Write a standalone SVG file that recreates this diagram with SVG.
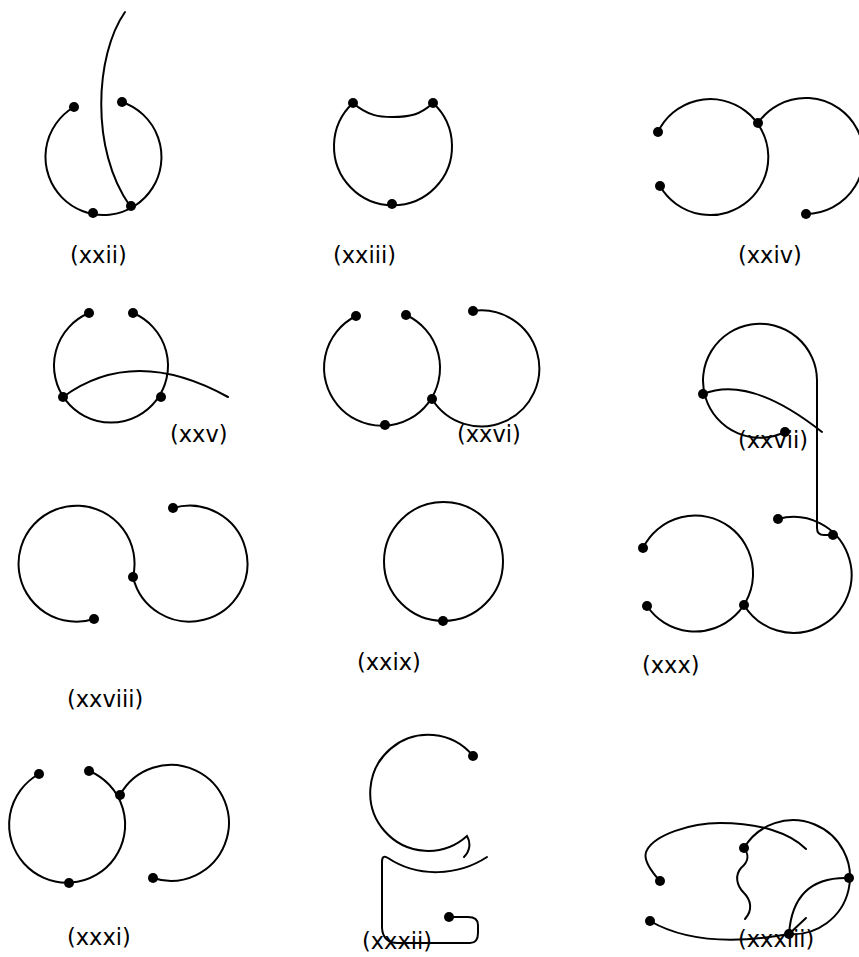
<svg xmlns="http://www.w3.org/2000/svg" width="859" height="957" viewBox="0 0 859 957">
<style>
.c{fill:none;stroke:#000;stroke-width:2;stroke-linecap:round}
.d{fill:#000}
.t{font-family:"DejaVu Sans",sans-serif;font-size:22.5px;fill:#000}
</style>
<rect width="859" height="957" fill="#fff"/>
<g id="connectors">
<!-- xxii -->
<path class="c" d="M122,102 A58,58 0 1 1 74,107"/>
<path class="c" d="M125,12 C95,55 90,150 130,206"/>
<!-- xxiii -->
<path class="c" d="M353,103 A59,59 0 1 0 433,103"/>
<path class="c" d="M353,103 C368,116 380,117 392,117 C410,117 420,115 433,103"/>
<!-- xxiv -->
<path class="c" d="M658,132 A58,58 0 1 1 660,186"/>
<path class="c" d="M758,123 A58,58 0 1 1 806,214"/>
<!-- xxv -->
<path class="c" d="M89,313 A57,57 0 1 0 133,313"/>
<path class="c" d="M63,397 Q134,345 228,397"/>
<!-- xxvi -->
<path class="c" d="M356,316 A58,58 0 1 0 406,315"/>
<path class="c" d="M473,311 A58,58 0 1 1 432,399"/>
<!-- xxvii -->
<path class="c" d="M785,432 A57,57 0 1 1 817,380 L817,528 Q817,535 824,535 L833,535"/>
<path class="c" d="M703,394 Q750,375 822,432"/>
<!-- xxviii -->
<path class="c" d="M94,619 A58,58 0 1 1 133,577"/>
<path class="c" d="M173,508 A58,58 0 1 1 133,577"/>
<!-- xxix -->
<circle class="c" cx="443.5" cy="561.5" r="59.5"/>
<!-- xxx -->
<path class="c" d="M643,548 A58,58 0 1 1 647,606"/>
<path class="c" d="M778,519 A58,58 0 1 1 744,605"/>
<!-- xxxi -->
<path class="c" d="M39,774 A58,58 0 1 0 89,771"/>
<path class="c" d="M120,795 A58,58 0 1 1 153,878"/>
<!-- xxxii -->
<path class="c" d="M473,756 A58,58 0 1 0 467,836 C471,843 470,851 464,857"/>
<path class="c" d="M487,857 C458,876 418,878 388,858 Q382,854 382,862 L382,928 Q383,943 398,943 L470,943 Q478,943 478,933 L478,925 Q478,917 468,917 L449,917"/>
<!-- xxxiii -->
<path class="c" d="M660,881 C650,870 642,858 647,850 C655,835 690,823 720,823 C760,823 790,833 806,849"/>
<path class="c" d="M744,848 A57,57 0 1 1 789,934"/>
<path class="c" d="M849,878 Q793,876 789,934"/>
<path class="c" d="M744,848 C750,856 748,862 741,868 C735,875 736,885 744,893 C751,900 753,910 745,919"/>
<path class="c" d="M650,921 Q700,950 789,934"/>
<path class="c" d="M789,934 L806,918"/>
</g>
<g id="n22"><circle class="d" cx="74" cy="107" r="5"/><circle class="d" cx="122" cy="102" r="5"/><circle class="d" cx="93" cy="213" r="5"/><circle class="d" cx="131" cy="206" r="5"/><text class="t" x="70" y="263">(xxii)</text></g>
<g id="n23"><circle class="d" cx="353" cy="103" r="5"/><circle class="d" cx="433" cy="103" r="5"/><circle class="d" cx="392" cy="204" r="5"/><text class="t" x="333" y="263">(xxiii)</text></g>
<g id="n24"><circle class="d" cx="658" cy="132" r="5"/><circle class="d" cx="660" cy="186" r="5"/><circle class="d" cx="758" cy="123" r="5"/><circle class="d" cx="806" cy="214" r="5"/><text class="t" x="738" y="263">(xxiv)</text></g>
<g id="n25"><circle class="d" cx="89" cy="313" r="5"/><circle class="d" cx="133" cy="313" r="5"/><circle class="d" cx="63" cy="397" r="5"/><circle class="d" cx="161" cy="397" r="5"/><text class="t" x="170" y="442">(xxv)</text></g>
<g id="n26"><circle class="d" cx="356" cy="316" r="5"/><circle class="d" cx="406" cy="315" r="5"/><circle class="d" cx="385" cy="425" r="5"/><circle class="d" cx="432" cy="399" r="5"/><circle class="d" cx="473" cy="311" r="5"/><text class="t" x="457" y="442">(xxvi)</text></g>
<g id="n27"><circle class="d" cx="703" cy="394" r="5"/><circle class="d" cx="785" cy="432" r="5"/><text class="t" x="738" y="448">(xxvii)</text></g>
<g id="n28"><circle class="d" cx="94" cy="619" r="5"/><circle class="d" cx="133" cy="577" r="5"/><circle class="d" cx="173" cy="508" r="5"/><text class="t" x="67" y="707">(xxviii)</text></g>
<g id="n29"><circle class="d" cx="443" cy="621" r="5"/><text class="t" x="357" y="670">(xxix)</text></g>
<g id="n30"><circle class="d" cx="643" cy="548" r="5"/><circle class="d" cx="647" cy="606" r="5"/><circle class="d" cx="744" cy="605" r="5"/><circle class="d" cx="778" cy="519" r="5"/><circle class="d" cx="833" cy="535" r="5"/><text class="t" x="642" y="673">(xxx)</text></g>
<g id="n31"><circle class="d" cx="39" cy="774" r="5"/><circle class="d" cx="89" cy="771" r="5"/><circle class="d" cx="120" cy="795" r="5"/><circle class="d" cx="69" cy="883" r="5"/><circle class="d" cx="153" cy="878" r="5"/><text class="t" x="67" y="945">(xxxi)</text></g>
<g id="n32"><circle class="d" cx="473" cy="756" r="5"/><circle class="d" cx="449" cy="917" r="5"/><text class="t" x="362" y="949">(xxxii)</text></g>
<g id="n33"><circle class="d" cx="660" cy="881" r="5"/><circle class="d" cx="650" cy="921" r="5"/><circle class="d" cx="744" cy="848" r="5"/><circle class="d" cx="849" cy="878" r="5"/><circle class="d" cx="789" cy="934" r="5"/><text class="t" x="738" y="947">(xxxiii)</text></g>
</svg>
